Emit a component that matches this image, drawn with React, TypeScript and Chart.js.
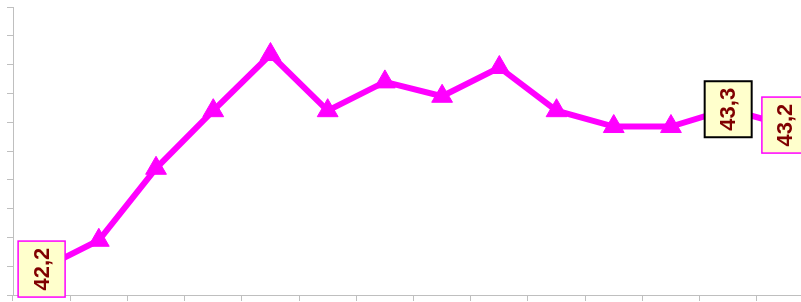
import React, { useEffect, useRef } from "react";
import { Chart, registerables } from "chart.js";

Chart.register(...registerables);

const categories = ["1", "2", "3", "4", "5", "6", "7", "8", "9", "10", "11", "12", "13", "14"];
const seriesValues = [42.18, 42.38, 42.88, 43.28, 43.67, 43.28, 43.48, 43.38, 43.58, 43.28, 43.17, 43.17, 43.29, 43.18];
const yTickRange = [42, 44];
const yTickStep = 0.2;
const labeledIndices = [0, 12, 13];
const labelBorders = ["#FF00FF", "#000000", "#FF00FF"];

const CANVAS_W = 820;
const CANVAS_H = 302;

const labelPlugin = {
  id: "valueLabels",
  afterDatasetsDraw(chart: any) {
    const meta = chart.getDatasetMeta(0);
    const ctx = chart.ctx;
    labeledIndices.forEach((idx, i) => {
      const el = meta.data[idx];
      if (!el) return;
      const text = seriesValues[idx].toFixed(1).replace(".", ",");
      const border = labelBorders[i];
      ctx.save();
      ctx.translate(el.x, el.y);
      ctx.rotate(-Math.PI / 2);
      ctx.fillStyle = "#FFFFCC";
      ctx.fillRect(-28, -23.5, 56, 47);
      ctx.strokeStyle = border;
      ctx.lineWidth = border === "#000000" ? 2 : 1.5;
      ctx.strokeRect(-28, -23.5, 56, 47);
      ctx.fillStyle = "#800000";
      ctx.font = "bold 22px 'Liberation Sans', Arial, sans-serif";
      ctx.textAlign = "center";
      ctx.textBaseline = "middle";
      ctx.fillText(text, 0, 1);
      ctx.restore();
    });
  },
};

export default function App() {
  const ref = useRef<HTMLCanvasElement | null>(null);

  useEffect(() => {
    if (!ref.current) return;
    const chart = new Chart(ref.current, {
      type: "line",
      data: {
        labels: categories,
        datasets: [
          {
            data: seriesValues,
            borderColor: "#FF00FF",
            backgroundColor: "#FF00FF",
            borderWidth: 6,
            pointStyle: "triangle",
            pointRadius: 12,
            pointBorderWidth: 1,
            pointBackgroundColor: "#FF00FF",
            pointBorderColor: "#FF00FF",
            tension: 0,
            fill: false,
            clip: false,
          },
        ],
      },
      options: {
        responsive: false,
        animation: false,
        devicePixelRatio: 1,
        layout: { autoPadding: false, padding: { left: 7, right: 6, top: 7, bottom: 1 } },
        plugins: {
          legend: { display: false },
          tooltip: { enabled: false },
          title: { display: false },
        },
        scales: {
          x: {
            type: "category",
            offset: true,
            grid: {
              offset: true,
              display: true,
              drawOnChartArea: false,
              drawTicks: true,
              tickLength: 6,
              color: "#BFBFBF",
            },
            border: { display: true, color: "#BFBFBF", width: 1 },
            ticks: { display: false },
          },
          y: {
            min: yTickRange[0],
            max: yTickRange[1],
            grid: {
              display: true,
              drawOnChartArea: false,
              drawTicks: true,
              tickLength: 6,
              color: "#BFBFBF",
            },
            border: { display: true, color: "#BFBFBF", width: 1 },
            ticks: { display: false, stepSize: yTickStep },
          },
        },
      },
      plugins: [labelPlugin],
    });
    return () => chart.destroy();
  }, []);

  return (
    <div
      style={{
        position: "fixed",
        left: 0,
        top: 0,
        width: 801,
        height: 302,
        overflow: "hidden",
        background: "#FFFFFF",
      }}
    >
      <canvas
        ref={ref}
        width={CANVAS_W}
        height={CANVAS_H}
        style={{ display: "block", width: CANVAS_W, height: CANVAS_H }}
      />
    </div>
  );
}
